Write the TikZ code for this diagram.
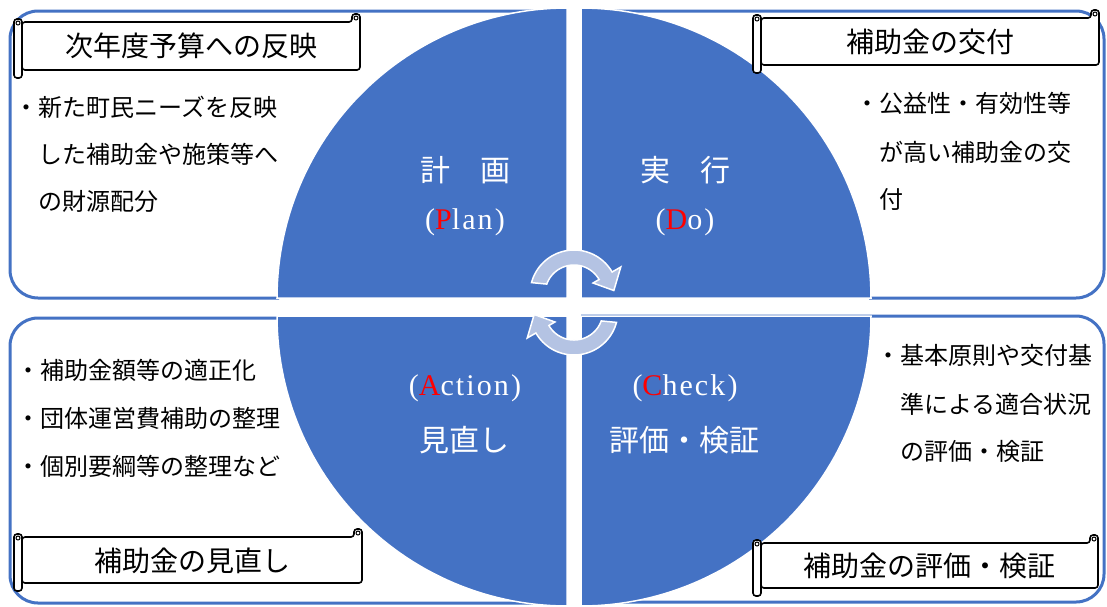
\documentclass[tikz,border=0pt]{standalone}
\usepackage{fontspec}
\newfontfamily\jp{Noto Sans CJK JP}
\newfontfamily\lat[LetterSpace=7]{Liberation Serif}
\definecolor{pdca}{HTML}{4472C4}
\definecolor{arrowfill}{HTML}{B4C3E3}
\newcommand\scrollshape[4]{%
  \draw[scr] (#1,#3) -- ({#2-8},#3) -- ({#2-8},{#3-8}) -- (#2,{#3-8}) -- (#2,#4) -- (#1,#4) -- cycle;
  \draw[scr] ({#1-8},{#3-3}) rectangle (#1,{#4+8});
  \draw[black, line width=1pt, fill=white] ({#2-4},{#3-4}) circle (2);
  \draw[black, line width=1pt, fill=white] ({#1-4},{#3+1}) circle (2);
}
\begin{document}
\begin{tikzpicture}[x=1pt,y=-1pt,
  frame/.style={draw=pdca, line width=3pt, rounded corners=28pt},
  pie/.style={fill=pdca, draw=white, line width=1.5pt},
  arr/.style={fill=arrowfill, draw=white, line width=1.5pt},
  scr/.style={draw=black, line width=1.6pt, fill=white, rounded corners=3pt},
  ttl/.style={font=\jp\fontsize{28}{34}\selectfont, text=black, inner sep=0pt},
  body/.style={font=\jp\fontsize{24}{28}\selectfont, text=black, inner sep=0pt, anchor=west},
  cj/.style={font=\jp\fontsize{30}{36}\selectfont, text=white, inner sep=0pt},
  cl/.style={font=\lat\fontsize{30}{36}\selectfont, text=white, inner sep=0pt}]
\useasboundingbox (0,0) rectangle (1107,606);
\fill[white] (0,0) rectangle (1107,606);
% frames
\draw[frame] (567,11) -- (10,11) -- (10,298) -- (279,298);
\draw[frame] (581,11) -- (1104,11) -- (1104,298) -- (869,298);
\draw[frame] (567,318) -- (10,318) -- (10,603) -- (567,603);
\draw[frame] (581,316) -- (1104,316) -- (1104,602) -- (581,602);
% quadrants
\filldraw[pie] (567,298) -- plot[domain=180:270,samples=60] ({567+290*cos(\x)},{298+290*sin(\x)}) -- cycle;
\filldraw[pie] (581,298) -- plot[domain=270:360,samples=60] ({581+290*cos(\x)},{298+290*sin(\x)}) -- cycle;
\filldraw[pie] (567,316) -- plot[domain=90:180,samples=60] ({567+290*cos(\x)},{316+290*sin(\x)}) -- cycle;
\filldraw[pie] (581,316) -- plot[domain=0:90,samples=60] ({581+290*cos(\x)},{316+290*sin(\x)}) -- cycle;
% cycle arrows
\filldraw[arr] plot[domain=195:330,samples=40] ({574+44*cos(\x)},{294+44*sin(\x)})
  -- ({574+54*cos(330)},{294+54*sin(330)}) -- ({574+40*cos(355)},{294+40*sin(355)})
  -- ({574+22*cos(330)},{294+22*sin(330)})
  -- plot[domain=330:200,samples=40] ({574+29*cos(\x)},{294+29*sin(\x)}) -- cycle;
\filldraw[arr] plot[domain=15:150,samples=40] ({574+44*cos(\x)},{311+44*sin(\x)})
  -- ({574+54*cos(150)},{311+54*sin(150)}) -- ({574+40*cos(175)},{311+40*sin(175)})
  -- ({574+22*cos(150)},{311+22*sin(150)})
  -- plot[domain=150:20,samples=40] ({574+29*cos(\x)},{311+29*sin(\x)}) -- cycle;
% circle labels
\node[cj] (plan) at (465,170) {計　画};
\node[cl] (planen) at (465,222) {(\textcolor{red}{P}lan)};
\node[cj] (do) at (685,170) {実　行};
\node[cl] (doen) at (685,222) {(\textcolor{red}{D}o)};
\node[cl] (acten) at (465,388) {(\textcolor{red}{A}ction)};
\node[cj] (act) at (464,440) {見直し};
\node[cl] (checken) at (685,388) {(\textcolor{red}{C}heck)};
\node[cj] (check) at (684,440) {評価・検証};
% scroll banners
\scrollshape{22}{360}{22}{70}
\node[ttl] (t1) at (191,46) {次年度予算への反映};
\scrollshape{761}{1099}{18}{65}
\node[ttl] (t2) at (930,42) {補助金の交付};
\scrollshape{22}{362}{537}{583}
\node[ttl] (t3) at (192,561) {補助金の見直し};
\scrollshape{761}{1098}{543}{588}
\node[ttl] (t4) at (929,566) {補助金の評価・検証};
% body texts
\node[body] (a1) at (14,107) {・新た町民ニーズを反映};
\node[body] (a2) at (38,154) {した補助金や施策等へ};
\node[body] (a3) at (38,201) {の財源配分};
\node[body] (b1) at (855,103) {・公益性・有効性等};
\node[body] (b2) at (879,152) {が高い補助金の交};
\node[body] (b3) at (879,199) {付};
\node[body] (c1) at (16,370) {・補助金額等の適正化};
\node[body] (c2) at (16,418) {・団体運営費補助の整理};
\node[body] (c3) at (16,466) {・個別要綱等の整理など};
\node[body] (d1) at (876,355) {・基本原則や交付基};
\node[body] (d2) at (900,404) {準による適合状況};
\node[body] (d3) at (900,451) {の評価・検証};
\end{tikzpicture}
\end{document}
